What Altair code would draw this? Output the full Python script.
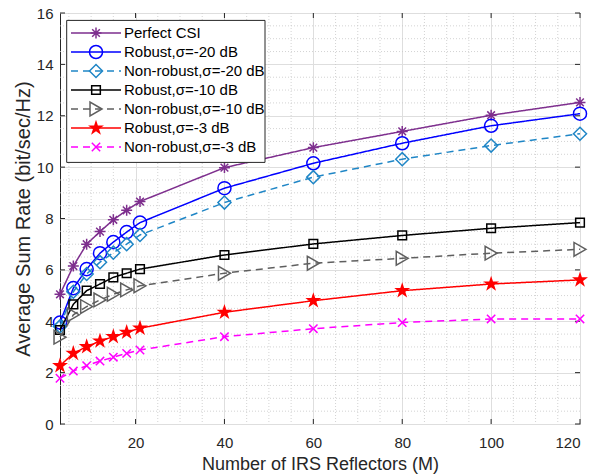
import math
import altair as alt
import pandas as pd

# ---------------- data ----------------
M = [3, 6, 9, 12, 15, 18, 21, 40, 60, 80, 100, 120]
perfect = [5.05, 6.15, 7.00, 7.49, 7.95, 8.32, 8.66, 9.98, 10.76, 11.39, 12.02, 12.52]
robust20 = [3.95, 5.29, 6.03, 6.65, 7.08, 7.47, 7.84, 9.18, 10.15, 10.93, 11.61, 12.08]
nonrobust20 = [3.80, 5.15, 5.84, 6.30, 6.67, 7.00, 7.36, 8.62, 9.61, 10.31, 10.84, 11.30]
robust10 = [3.66, 4.66, 5.19, 5.45, 5.71, 5.87, 6.03, 6.58, 7.01, 7.34, 7.62, 7.84]
nonrobust10 = [3.38, 4.25, 4.57, 4.83, 5.05, 5.22, 5.38, 5.87, 6.26, 6.45, 6.65, 6.80]
robust3 = [2.27, 2.75, 3.01, 3.23, 3.40, 3.57, 3.73, 4.35, 4.80, 5.19, 5.45, 5.61]
nonrobust3 = [1.78, 2.06, 2.27, 2.45, 2.60, 2.75, 2.88, 3.40, 3.71, 3.95, 4.09, 4.09]

names = [
    "Perfect CSI",
    "Robust,σ=-20 dB",
    "Non-robust,σ=-20 dB",
    "Robust,σ=-10 dB",
    "Non-robust,σ=-10 dB",
    "Robust,σ=-3 dB",
    "Non-robust,σ=-3 dB",
]
values = [perfect, robust20, nonrobust20, robust10, nonrobust10, robust3, nonrobust3]

x_major = [20, 40, 60, 80, 100, 120]
y_major = [0, 2, 4, 6, 8, 10, 12, 14, 16]
x_minor = [v for v in range(5, 120, 5) if v % 20 != 0]
y_minor = [v / 2 for v in range(1, 32) if v % 4 != 0]

# ---------------- styles ----------------
def star_path(r_in=0.382):
    pts = []
    for k in range(10):
        ang = math.radians(-90 + 36 * k)
        r = 1.0 if k % 2 == 0 else r_in
        pts.append(f"{r*math.cos(ang):.3f},{r*math.sin(ang):.3f}")
    return "M" + "L".join(pts) + "Z"

ASTERISK = "M-1,0L1,0M0,-1L0,1M-0.7,-0.7L0.7,0.7M-0.7,0.7L0.7,-0.7"
XMARK = "M-1,-1L1,1M-1,1L1,-1"
STAR = star_path()

styles = [
    dict(color="#7E2F8E", dash=[1, 0], shape=ASTERISK, size=120, filled=False),
    dict(color="#0000FF", dash=[1, 0], shape="circle", size=170, filled=False),
    dict(color="#1F86C6", dash=[7, 5], shape="diamond", size=170, filled=False),
    dict(color="#000000", dash=[1, 0], shape="square", size=75, filled=False),
    dict(color="#5F5F5F", dash=[7, 5], shape="triangle-right", size=190, filled=False),
    dict(color="#FF0000", dash=[1, 0], shape=STAR, size=280, filled=True),
    dict(color="#FF00FF", dash=[7, 5], shape=XMARK, size=70, filled=False),
]

W, H = 520, 411
FONT = "Liberation Sans"
AX = "#262626"

xs = alt.Scale(domain=[3, 120], nice=False, zero=False)
ys = alt.Scale(domain=[0, 16], nice=False)

one = pd.DataFrame({"a": [0]})

layers = []

# minor grid (dotted)
layers.append(
    alt.Chart(pd.DataFrame({"x": x_minor})).mark_rule(
        color="#C8C8C8", strokeDash=[1, 2], strokeWidth=0.8
    ).encode(x=alt.X("x:Q", scale=xs))
)
layers.append(
    alt.Chart(pd.DataFrame({"y": y_minor})).mark_rule(
        color="#C8C8C8", strokeDash=[1, 2], strokeWidth=0.8
    ).encode(y=alt.Y("y:Q", scale=ys))
)

# base layer with axes
base = alt.Chart(pd.DataFrame({"M": M, "v": perfect})).mark_point(opacity=0).encode(
    x=alt.X(
        "M:Q",
        scale=xs,
        axis=alt.Axis(
            values=x_major,
            title="Number of IRS Reflectors (M)",
            grid=True,
            gridColor="#DEDEDE",
            gridWidth=1,
            domain=False,
            ticks=False,
            labelPadding=11,
            labelFontSize=15,
            labelFont=FONT,
            labelColor=AX,
            titleFont=FONT,
            titleFontSize=18,
            titleFontWeight="normal",
            titleColor=AX,
            titleY=31,
            titleBaseline="top",
        ),
    ),
    y=alt.Y(
        "v:Q",
        scale=ys,
        axis=alt.Axis(
            values=y_major,
            title="Average Sum Rate (bit/sec/Hz)",
            grid=True,
            gridColor="#DEDEDE",
            gridWidth=1,
            domain=False,
            ticks=False,
            labelPadding=7,
            labelFontSize=15,
            labelFont=FONT,
            labelColor=AX,
            titleFont=FONT,
            titleFontSize=20,
            titleFontWeight="normal",
            titleColor=AX,
            titleX=-31,
            titleBaseline="alphabetic",
        ),
    ),
)
layers.append(base)

# inward ticks
tx = pd.DataFrame({"x": x_major})
ty = pd.DataFrame({"y": y_major})
layers.append(alt.Chart(tx).mark_rule(color=AX).encode(
    x=alt.X("x:Q", scale=xs), y=alt.value(H), y2=alt.value(H - 5)))
layers.append(alt.Chart(tx).mark_rule(color=AX).encode(
    x=alt.X("x:Q", scale=xs), y=alt.value(0), y2=alt.value(5)))
layers.append(alt.Chart(ty).mark_rule(color=AX).encode(
    y=alt.Y("y:Q", scale=ys), x=alt.value(0), x2=alt.value(5)))
layers.append(alt.Chart(ty).mark_rule(color=AX).encode(
    y=alt.Y("y:Q", scale=ys), x=alt.value(W - 5), x2=alt.value(W)))

# series
for name, vals, st in zip(names, values, styles):
    df = pd.DataFrame({"M": M, "v": vals})
    layers.append(
        alt.Chart(df).mark_line(
            color=st["color"], strokeWidth=1.5, strokeDash=st["dash"]
        ).encode(x=alt.X("M:Q", scale=xs), y=alt.Y("v:Q", scale=ys))
    )
    pt_kwargs = dict(
        shape=st["shape"], size=st["size"], strokeWidth=1.5, opacity=1,
        color=st["color"], filled=st["filled"],
    )
    layers.append(
        alt.Chart(df).mark_point(**pt_kwargs).encode(
            x=alt.X("M:Q", scale=xs), y=alt.Y("v:Q", scale=ys)
        )
    )

# legend
layers.append(
    alt.Chart(one).mark_rect(fill="white", stroke=AX, strokeWidth=1).encode(
        x=alt.value(6.7), x2=alt.value(205), y=alt.value(7.4), y2=alt.value(149.4)
    )
)
leg_y0, leg_dy = 20.0, 19.0
for i, (name, st) in enumerate(zip(names, styles)):
    yy = leg_y0 + leg_dy * i
    layers.append(
        alt.Chart(one).mark_rule(
            color=st["color"], strokeWidth=1.5, strokeDash=st["dash"]
        ).encode(x=alt.value(11), x2=alt.value(61), y=alt.value(yy))
    )
    layers.append(
        alt.Chart(one).mark_point(
            shape=st["shape"], size=st["size"], strokeWidth=1.5, opacity=1,
            color=st["color"], filled=st["filled"],
        ).encode(x=alt.value(36), y=alt.value(yy))
    )
    layers.append(
        alt.Chart(pd.DataFrame({"t": [name]})).mark_text(
            align="left", baseline="middle", font=FONT, fontSize=15, color="#000000"
        ).encode(x=alt.value(64), y=alt.value(yy), text="t:N")
    )

chart = (
    alt.layer(*layers)
    .properties(
        width=W,
        height=H,
        autosize=alt.AutoSizeParams(type="none"),
        padding={"left": 60, "top": 13, "right": 13, "bottom": 50},
        background="white",
    )
    .configure_view(stroke=AX, strokeWidth=1)
)

chart.save("out.html", embed_options={"renderer": "svg", "actions": False})
